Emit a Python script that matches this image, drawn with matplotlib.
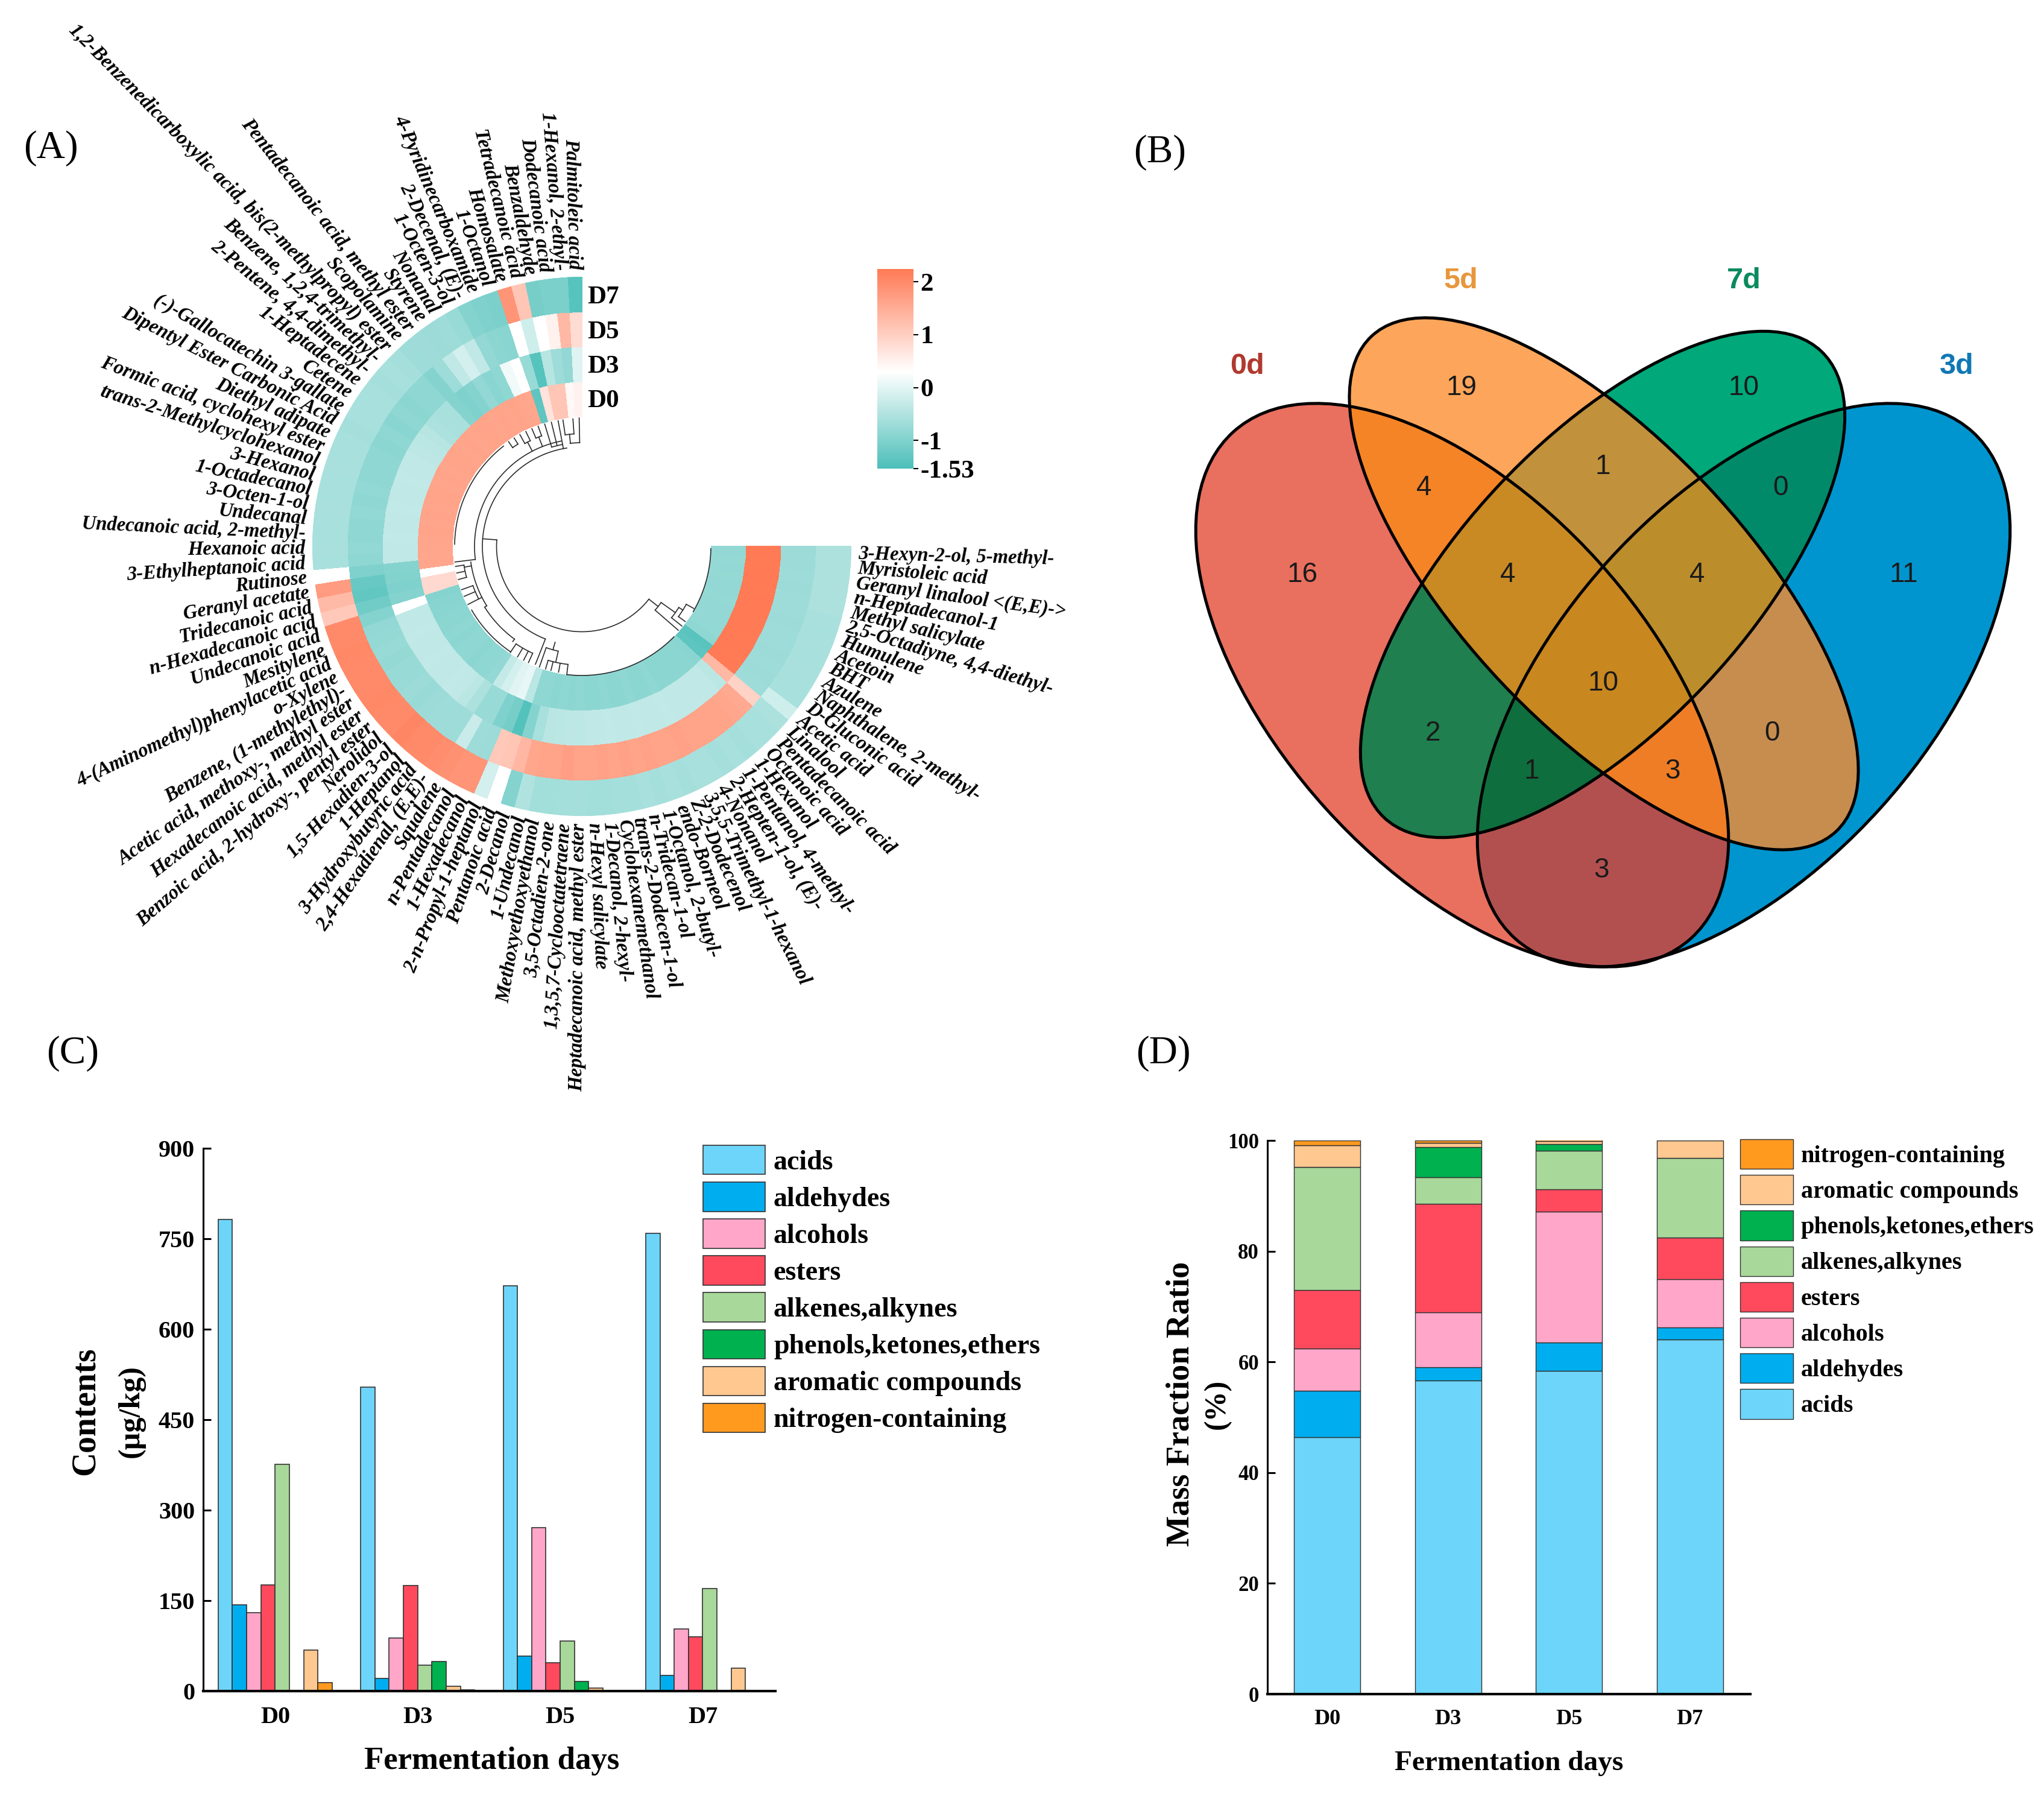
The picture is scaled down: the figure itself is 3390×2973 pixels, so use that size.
import numpy as np
import matplotlib
matplotlib.use('Agg')
import matplotlib.pyplot as plt
from matplotlib.colors import LinearSegmentedColormap, Normalize, to_rgba
from matplotlib.patches import Ellipse

plt.rcParams['font.family'] = ['Liberation Serif', 'DejaVu Serif']

W, H = 3390, 2973

compounds = [
    'Palmitoleic acid', '1-Hexanol, 2-ethyl-', 'Dodecanoic acid', 'Benzaldehyde', 'Tetradecanoic acid',
    'Homosalate', '1-Octanol', '4-Pyridinecarboxamide', '2-Decenal, (E)-', '1-Octen-3-ol',
    'Nonanal', 'Styrene', 'Pentadecanoic acid, methyl ester', 'Scopolamine',
    '1,2-Benzenedicarboxylic acid, bis(2-methylpropyl) ester', 'Benzene, 1,2,4-trimethyl-',
    '2-Pentene, 4,4-dimethyl-', '1-Heptadecene', 'Cetene', '(-)-Gallocatechin 3-gallate',
    'Dipentyl Ester Carbonic Acid', 'Diethyl adipate', 'Formic acid, cyclohexyl ester',
    'trans-2-Methylcyclohexanol', '3-Hexanol', '1-Octadecanol', '3-Octen-1-ol', 'Undecanal',
    'Undecanoic acid, 2-methyl-', 'Hexanoic acid', '3-Ethylheptanoic acid', 'Rutinose',
    'Geranyl acetate', 'Tridecanoic acid', 'n-Hexadecanoic acid', 'Undecanoic acid', 'Mesitylene',
    '4-(Aminomethyl)phenylacetic acid', 'o-Xylene', 'Benzene, (1-methylethyl)-',
    'Acetic acid, methoxy-, methyl ester', 'Hexadecanoic acid, methyl ester',
    'Benzoic acid, 2-hydroxy-, pentyl ester', 'Nerolidol', '1,5-Hexadien-3-ol', '1-Heptanol',
    '3-Hydroxybutyric acid', '2,4-Hexadienal, (E,E)-', 'Squalene', 'n-Pentadecanol', '1-Hexadecanol',
    '2-n-Propyl-1-heptanol', 'Pentanoic acid', '2-Decanol', '1-Undecanol', 'Methoxyethoxyethanol',
    '3,5-Octadien-2-one', '1,3,5,7-Cyclooctatetraene', 'Heptadecanoic acid, methyl ester',
    'n-Hexyl salicylate', '1-Decanol, 2-hexyl-', 'Cyclohexanemethanol', 'trans-2-Dodecen-1-ol',
    'n-Tridecan-1-ol', '1-Octanol, 2-butyl-', 'endo-Borneol', 'Z-2-Dodecenol',
    '3,5,5-Trimethyl-1-hexanol', '4-Nonanol', '2-Hepten-1-ol, (E)-', '1-Pentanol, 4-methyl-',
    '1-Hexanol', 'Octanoic acid', 'Pentadecanoic acid', 'Linalool', 'Acetic acid', 'D-Gluconic acid',
    'Naphthalene, 2-methyl-', 'Azulene', 'BHT', 'Acetoin', 'Humulene', '2,5-Octadiyne, 4,4-diethyl-',
    'Methyl salicylate', 'n-Heptadecanol-1', 'Geranyl linalool <(E,E)->', 'Myristoleic acid',
    '3-Hexyn-2-ol, 5-methyl-',
]

# heatmap rings, compounds in the order above
d7 = [-1.42, -1.05, -1.05, -1.1, 1.15, 1.85, -1.05, -1.0, -0.95, -0.75,
      -0.7, -0.72, -0.68, -0.7, -0.62, -0.6, -0.62, -0.6, -0.6, -0.6,
      -0.62, -0.6, -0.6, -0.58, -0.6, -0.6, -0.58, -0.6, -0.6, -0.58,
      -0.6, 0.3, 1.75, 1.3, 1.1, 2.0, 2.0, 2.02, 2.0, 2.0,
      2.0, 2.02, 2.0, 2.0, 2.05, 2.0, 2.0, 1.95, 1.9, 1.85,
      1.85, -0.15, 0.3, -0.95, -0.5, -0.65, -0.65, -0.62, -0.62, -0.65,
      -0.65, -0.62, -0.62, -0.6, -0.62, -0.6, -0.62, -0.6, -0.6, -0.62,
      -0.6, -0.62, -0.6, -0.6, -0.55, -0.2, -0.6, -0.6, -0.58, -0.6,
      -0.58, -0.6, -0.58, -0.55, -0.55, -0.55, -0.55, -0.55]
d5 = [0.8, 1.33, 0.5, 0.3, -0.2, 0.3, -0.9, -0.88, -0.8, -0.35,
      -0.15, -0.35, -0.7, -0.95, -0.85, -0.85, -0.88, -0.85, -0.9, -0.85,
      -0.88, -0.85, -0.85, -0.85, -0.82, -0.85, -0.82, -0.85, -0.85, -0.82,
      -0.85, -1.0, -1.25, -1.3, -1.15, -0.95, -0.8, -0.78, -0.75, -0.78,
      -0.75, -0.75, -0.72, -0.75, -0.72, -0.7, -0.7, -0.7, -0.25, -0.7,
      -0.72, 1.1, 1.15, 1.35, 1.6, 1.65, 1.65, 1.7, 1.65, 1.65,
      1.68, 1.65, 1.68, 1.65, 1.68, 1.65, 1.65, 1.68, 1.65, 1.65,
      1.65, 1.65, 1.6, 1.55, 0.95, -0.7, -0.72, -0.7, -0.72, -0.7,
      -0.7, -0.72, -0.7, -0.7, -0.72, -0.7, -0.72, -0.72]
d3 = [-0.03, -0.8, -0.7, -0.45, -1.42, -0.75, 0.3, 0.15, -0.85, -0.9,
      -0.8, -0.95, -1.0, -0.95, -0.6, -0.58, -0.55, -0.45, -0.4, -0.38,
      -0.35, -0.35, -0.33, -0.35, -0.35, -0.33, -0.35, -0.35, -0.33, -0.35,
      -0.35, -0.95, -0.98, -1.0, -0.95, 0.3, -0.35, -0.35, -0.33, -0.35,
      -0.35, -0.33, -0.35, -0.35, -0.33, -0.35, -0.4, -0.55, -0.75, -0.75,
      -1.0, -1.1, -1.45, -0.95, -0.6, -0.42, -0.4, -0.38, -0.38, -0.35,
      -0.35, -0.33, -0.35, -0.35, -0.33, -0.35, -0.35, -0.33, -0.35, -0.35,
      -0.35, -0.35, -0.35, -0.4, 1.33, 2.24, 2.22, 2.24, 2.22, 2.24,
      2.22, 2.24, 2.24, 2.22, 2.24, 2.24, 2.22, 2.24]
d0 = [0.5, 0.4, 1.15, 1.15, 0.7, -1.35, 1.6, 1.62, 1.65, 1.62,
      1.65, 1.62, 1.65, 1.65, 1.62, 1.65, 1.62, 1.65, 1.65, 1.62,
      1.65, 1.62, 1.65, 1.65, 1.62, 1.65, 1.62, 1.65, 1.62, 1.62,
      1.6, 1.6, 0.3, 0.85, 0.85, -0.95, -0.92, -0.9, -0.87, -0.87,
      -0.85, -0.87, -0.85, -0.85, -0.87, -0.85, -0.85, -0.8, -0.3, -0.14,
      0.0, 0.05, -0.4, -0.85, -0.85, -0.87, -0.85, -0.87, -0.85, -0.87,
      -0.87, -0.85, -0.87, -0.87, -0.85, -0.87, -0.87, -0.85, -0.87, -0.87,
      -0.87, -0.87, -0.87, -0.9, -1.35, -1.4, -0.85, -0.82, -0.8, -0.8,
      -0.8, -0.78, -0.8, -0.8, -0.78, -0.8, -0.78, -0.8]

# dendrogram: arcs (radius, theta1, theta2) and stems (theta, r1, r2)
den_arcs = [(141.5, 175.6, 321.8), (165, 98.7, 248.5), (178, 101, 187), (186, 188, 212), (190, 212, 234),
            (211, 128, 179), (211, 210, 236), (214, 263.3, 315.5), (214, 329.7, 359), (161, 319, 324.7),
            (190, 321.5, 327.8), (198, 324, 331), (178, 250.6, 257.3), (197, 253.5, 263.3),
            (195, 236, 245), (198, 189, 195), (192, 199.8, 207), (172, 91.2, 96.5), (187, 94, 98.5),
            (195, 110, 113), (195, 116, 119), (200, 122, 125), (172, 100.7, 106.9)]
den_stems = [(175.6, 141.5, 165), (321.8, 141.5, 161), (319, 161, 212), (324.7, 161, 190), (321.5, 190, 212),
             (327.8, 190, 198), (324, 198, 212), (331, 198, 212), (248.5, 165, 210), (254.4, 165, 178),
             (250.6, 178, 212), (257.3, 178, 197), (253.5, 197, 212), (256, 197, 212), (259.5, 197, 212),
             (263.3, 197, 214), (236, 195, 212), (239.8, 195, 212), (242.9, 195, 212), (245.3, 195, 212),
             (234, 190, 195), (187, 178, 212), (190, 186, 198), (189, 198, 212), (192, 198, 212), (195, 198, 212),
             (199.8, 192, 212), (203, 192, 212), (207, 192, 212), (207, 186, 192), (212, 186, 190),
             (91.2, 172, 213), (96.3, 172, 187), (94, 187, 212), (98.5, 187, 212), (100.7, 165, 212),
             (103.8, 172, 212), (106.9, 172, 212), (110, 195, 212), (113, 195, 212), (111.5, 178, 195),
             (116, 195, 212), (119, 195, 212), (117.5, 178, 195), (122, 200, 212), (125, 200, 212)]

days = ['D0', 'D3', 'D5', 'D7']
classes = ['acids', 'aldehydes', 'alcohols', 'esters', 'alkenes,alkynes', 'phenols,ketones,ethers',
           'aromatic compounds', 'nitrogen-containing']
class_colors = ['#6dd5fa', '#00aeef', '#ffa6c9', '#ff4a5e', '#a8d89a', '#00b14f', '#ffc890', '#ff9a1f']

contents = [[782, 504, 672, 759],
            [143, 21, 58, 26],
            [130, 88, 271, 103],
            [176, 175, 47, 90],
            [376, 43, 83, 170],
            [0, 49, 16, 0],
            [68, 8, 5, 38],
            [14, 2, 0, 0]]

fractions = [[46.4, 56.6, 58.4, 64.0],
             [8.4, 2.4, 5.1, 2.2],
             [7.6, 10.0, 23.7, 8.7],
             [10.6, 19.6, 4.0, 7.6],
             [22.2, 4.8, 7.0, 14.3],
             [0.0, 5.4, 1.2, 0.0],
             [3.9, 0.8, 0.5, 3.2],
             [0.9, 0.4, 0.6, 0.0]]

# venn: (number, x, y) in pixels
venn_numbers = [('16', 2160, 953), ('19', 2424, 643), ('10', 2892, 643), ('11', 3157, 953), ('4', 2362, 809),
                ('1', 2658, 774), ('0', 2953, 809), ('4', 2501, 953), ('4', 2815, 953), ('2', 2376, 1216),
                ('10', 2659, 1133), ('0', 2939, 1216), ('1', 2540, 1279), ('3', 2774, 1279), ('3', 2656, 1443)]
# centre, full width, full height, angle
venn_sets = {'0d': ((2425, 1136), 1132, 610, 47.9),
             '5d': ((2660, 968), 1126, 472, 46.8),
             '7d': ((2658, 969), 1060, 476, -46.9),
             '3d': ((2892, 1136), 1132, 610, -47.9)}
venn_colors = {'0d': '#e96f5f', '5d': '#fda55a', '7d': '#00a87a', '3d': '#0095cf',
               '0d5d': '#f58427', '5d7d': '#c2913c', '7d3d': '#008a6a', '0d7d': '#1f7f4f',
               '0d3d': '#b25050', '5d3d': '#c68d4f', '0d5d7d': '#c98a24', '5d7d3d': '#bc8d2b',
               '0d7d3d': '#0f6e3e', '0d5d3d': '#ee7d26', '0d5d7d3d': '#c8871f'}
venn_titles = [('0d', 2068, 607, '#b0392f'), ('5d', 2423, 466, '#e8963c'),
               ('7d', 2892, 466, '#0b8a5e'), ('3d', 3245, 607, '#1078b4')]


def px_axes(fig, left, top, right, bottom, **kw):
    return fig.add_axes([left / W, 1 - bottom / H, (right - left) / W, (bottom - top) / H], **kw)


def inside(xx, yy, centre, width, height, angle):
    a = np.radians(angle)
    dx, dy = xx - centre[0], yy - centre[1]
    u = dx * np.cos(a) + dy * np.sin(a)
    v = -dx * np.sin(a) + dy * np.cos(a)
    return (u / (width / 2)) ** 2 + (v / (height / 2)) ** 2 <= 1


fig = plt.figure(figsize=(W / 100, H / 100), dpi=100, facecolor='white')

# (A) circular heatmap
cx, cy, R = 965, 906, 447
pol = px_axes(fig, cx - R, cy - R, cx + R, cy + R, projection='polar')
pol.set_axis_off()
pol.set_rlim(0, R)

n = len(compounds)
step = 270 / n
edges = np.radians(90 + step * np.arange(n + 1))
r_edges = [215, 273, 331, 389, 447]
cmap = LinearSegmentedColormap.from_list('ht', [(0, '#4dbfb9'), (1.83 / 3.77, '#ffffff'), (1, '#ff7a55')])
norm = Normalize(-1.53, 2.24)
mesh = pol.pcolormesh(edges, r_edges, np.array([d0, d3, d5, d7]), cmap=cmap, norm=norm,
                      edgecolors='face', linewidth=0.3)

for i, name in enumerate(compounds):
    th = 90 + step * (i + 0.5)
    if th < 270:
        rot, ha = th - 180, 'right'
    else:
        rot, ha = th - 360, 'left'
    pol.text(np.radians(th), 459, name, rotation=rot, ha=ha, va='center', rotation_mode='anchor',
             fontsize=23.5, fontweight='bold', fontstyle='italic')

for r, t1, t2 in den_arcs:
    tt = np.linspace(t1, t2, 60)
    pol.plot(np.radians(tt), [r] * 60, color='#2b2b2b', lw=1.2)
for t, r1, r2 in den_stems:
    pol.plot(np.radians([t, t]), [r1, r2], color='#2b2b2b', lw=1.2)
pol.set_rlim(0, R)

cax = px_axes(fig, 1455, 446, 1515, 777)
cb = fig.colorbar(mesh, cax=cax, ticks=[2, 1, 0, -1, -1.53])
cb.outline.set_visible(False)
cb.ax.set_yticklabels(['2', '1', '0', '-1', '-1.53'], fontsize=31, fontweight='bold')
cb.ax.tick_params(length=6, width=1.5, pad=2)

# (C) grouped bars
axc = px_axes(fig, 337, 1904, 1286, 2804)
x = np.arange(len(days))
for i, (name, vals, col) in enumerate(zip(classes, contents, class_colors)):
    axc.bar(x + (i - 3.5) * 0.1, vals, 0.1, color=col, edgecolor='#333333', linewidth=1.2, label=name)
axc.set_xlim(-0.505, 3.51)
axc.set_ylim(0, 900)
axc.set_yticks(range(0, 901, 150))
axc.set_xticks(x, days)
axc.tick_params(axis='y', direction='in', length=9, width=2.2, labelsize=29, pad=10)
axc.tick_params(axis='x', length=0, labelsize=29, pad=18)
for lab in axc.get_xticklabels() + axc.get_yticklabels():
    lab.set_fontweight('bold')
axc.spines[['top', 'right']].set_visible(False)
axc.spines['left'].set_linewidth(2.2)
axc.spines['bottom'].set_linewidth(3)
fig.legend(*axc.get_legend_handles_labels(), loc='upper left', bbox_to_anchor=(1166 / W, 1 - 1899 / H),
           frameon=False, handlelength=2.25, handleheight=1.25, labelspacing=0.25,
           handletextpad=0.3, borderpad=0, borderaxespad=0, prop={'weight': 'bold', 'size': 33})

# (D) stacked bars
axd = px_axes(fig, 2102, 1891, 2903, 2809)
x = np.arange(len(days))
bottom = np.zeros(len(days))
for name, vals, col in zip(classes, fractions, class_colors):
    axd.bar(x, vals, 0.55, bottom=bottom, color=col, edgecolor='#333333', linewidth=1.0, label=name)
    bottom += np.array(vals)
axd.set_xlim(-0.495, 3.5)
axd.set_ylim(0, 100)
axd.set_yticks(range(0, 101, 20))
axd.set_xticks(x, days)
axd.tick_params(axis='y', direction='in', length=9, width=2.2, labelsize=25, pad=10)
axd.tick_params(axis='x', length=0, labelsize=26, pad=18)
for lab in axd.get_xticklabels() + axd.get_yticklabels():
    lab.set_fontweight('bold')
axd.spines[['top', 'right']].set_visible(False)
axd.spines['left'].set_linewidth(2.2)
axd.spines['bottom'].set_linewidth(3)
h, l = axd.get_legend_handles_labels()
fig.legend(h[::-1], l[::-1], loc='upper left', bbox_to_anchor=(2886 / W, 1 - 1889 / H),
           frameon=False, handlelength=2.18, handleheight=1.5, labelspacing=0.25,
           handletextpad=0.32, borderpad=0, borderaxespad=0, prop={'weight': 'bold', 'size': 29})

# overlay in pixel coordinates: venn and free text
top = fig.add_axes([0, 0, 1, 1], zorder=5)
top.patch.set_alpha(0)

# (B) venn, every overlap painted with its own colour
gx, gy = np.meshgrid(np.arange(1900, 3390) + 0.5, np.arange(500, 1650) + 0.5)
rgba = np.zeros(gx.shape + (4,))
masks = {k: inside(gx, gy, *v) for k, v in venn_sets.items()}
for key, col in venn_colors.items():
    m = np.ones(gx.shape, bool)
    for s, mask in masks.items():
        m &= mask if s in key else ~mask
    rgba[m] = to_rgba(col)
top.imshow(rgba, extent=(1900, 3390, 1650, 500), interpolation='nearest', aspect='auto')
for c, w_, h_, ang in venn_sets.values():
    top.add_patch(Ellipse(c, w_, h_, angle=ang, facecolor='none', edgecolor='black', linewidth=3.6))
top.set_xlim(0, W)
top.set_ylim(H, 0)
top.axis('off')

for txt, vx, vy in venn_numbers:
    top.text(vx, vy, txt, ha='center', va='center', fontsize=33, family='Liberation Sans', color='#1a1a1a')
for txt, vx, vy, col in venn_titles:
    top.text(vx, vy, txt, ha='center', va='center', fontsize=35, family='Liberation Sans',
             fontweight='bold', color=col)

for txt, px, py in [('(A)', 84, 246), ('(B)', 1924, 253), ('(C)', 121, 1747), ('(D)', 1929, 1747)]:
    top.text(px, py, txt, ha='center', va='center', fontsize=47)

for txt, py in [('D7', 493), ('D5', 551), ('D3', 608), ('D0', 665)]:
    top.text(974, py, txt, ha='left', va='center', fontsize=31, fontweight='bold')

top.text(816, 2920, 'Fermentation days', ha='center', va='center', fontsize=38, fontweight='bold')
top.text(142, 2340, 'Contents', ha='center', va='center', rotation=90, fontsize=40, fontweight='bold')
top.text(218, 2340, '(µg/kg)', ha='center', va='center', rotation=90, fontsize=36, fontweight='bold')
top.text(2503, 2924, 'Fermentation days', ha='center', va='center', fontsize=34, fontweight='bold')
top.text(1958, 2328, 'Mass Fraction Ratio', ha='center', va='center', rotation=90, fontsize=39, fontweight='bold')
top.text(2019, 2328, '(%)', ha='center', va='center', rotation=90, fontsize=36, fontweight='bold')

fig.savefig('out.png', dpi=100)
